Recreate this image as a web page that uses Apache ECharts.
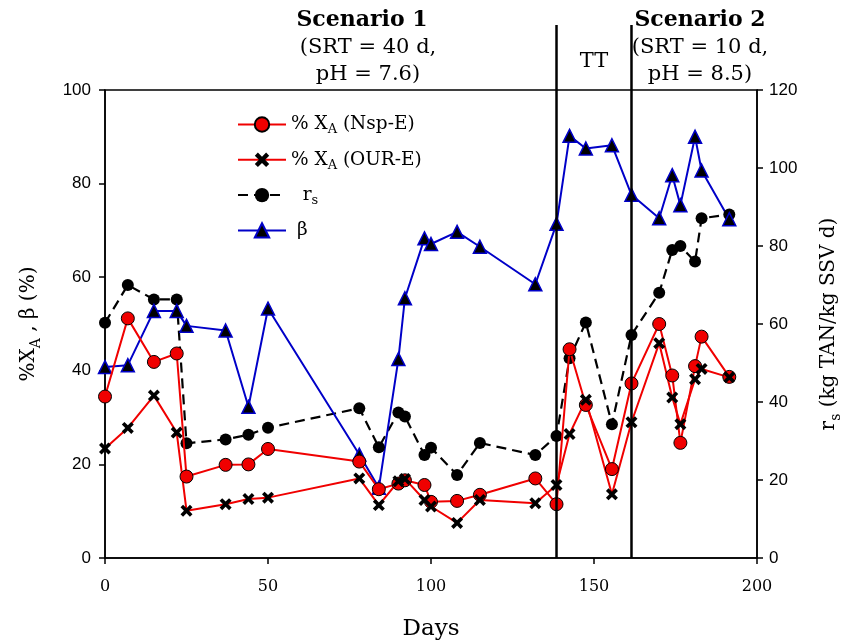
<!DOCTYPE html>
<html>
<head>
<meta charset="utf-8">
<script src="https://cdn.jsdelivr.net/npm/echarts/dist/echarts.min.js"></script>
<style>
  html, body { margin: 0; padding: 0; background: #fff; }
  #chart { width: 843px; height: 640px; }
</style>
</head>
<body>
<div id="chart"></div>
<script>
// Sampling days of the reactor run
const days = [0, 7, 15, 22, 25, 37, 44, 50, 78, 84, 90, 92, 98, 100, 108, 115, 132,
  138.5, 142.5, 147.5, 155.5, 161.5, 170, 174, 176.5, 181, 183, 191.5];

// % X_A estimated from the Nsp-E method (%)
const xaNsp = [34.5, 51.2, 41.9, 43.7, 17.4, 19.9, 20.0, 23.3, 20.6, 14.7, 15.9, 16.6, 15.6, 12.0, 12.2, 13.5, 17.0,
  11.5, 44.6, 32.7, 19.0, 37.3, 50.0, 39.0, 24.6, 41.0, 47.3, 38.7];

// % X_A estimated from the OUR-E method (%)
const xaOur = [23.4, 27.8, 34.7, 26.8, 10.1, 11.5, 12.6, 12.9, 17.0, 11.3, 16.4, 16.9, 12.4, 11.0, 7.5, 12.4, 11.7,
  15.6, 26.5, 33.8, 13.6, 29.0, 45.9, 34.3, 28.6, 38.2, 40.4, 38.6];

// Specific ammonium removal rate r_s (kg TAN/kg SSV d)
const rs = [60.3, 70.0, 66.3, 66.3, 29.4, 30.4, 31.6, 33.4, 38.4, 28.4, 37.3, 36.3, 26.4, 28.3, 21.3, 29.5, 26.4,
  31.3, 51.2, 60.4, 34.3, 57.2, 68.0, 79.0, 80.0, 76.0, 87.1, 88.1];

// beta (%)
const beta = [40.8, 41.2, 52.8, 52.8, 49.6, 48.6, 32.3, 53.3, 22.1, 15.0, 42.5, 55.5, 68.3, 67.1, 69.7, 66.5, 58.5,
  71.4, 90.2, 87.5, 88.2, 77.6, 72.6, 81.8, 75.4, 90.0, 82.8, 72.4];

// Boundaries between Scenario 1, the transition (TT) and Scenario 2
const phaseBounds = [138.5, 161.5];

const seriesNames = ['% XA (Nsp-E)', '% XA (OUR-E)', 'rs', 'β'];

const SERIF = 'DejaVu Serif';
const SANS = 'Liberation Sans';
const RED = '#f00000';
const BLUE = '#0000c8';

const pairs = ys => days.map((d, i) => [d, ys[i]]);

// filled X marker
const crossPath = 'path://M0,3 L3,0 L7,4 L11,0 L14,3 L10,7 L14,11 L11,14 L7,10 L3,14 L0,11 L4,7 Z';

const richText = {
  t: { fontFamily: SERIF, fontSize: 18.5, lineHeight: 24, color: '#000', verticalAlign: 'middle' },
  s: { fontFamily: SERIF, fontSize: 13, lineHeight: 11, color: '#000', verticalAlign: 'bottom' }
};
const axisRich = {
  t: { fontFamily: SERIF, fontSize: 20, lineHeight: 28, color: '#000', verticalAlign: 'middle' },
  s: { fontFamily: SERIF, fontSize: 14, lineHeight: 12, color: '#000', verticalAlign: 'bottom' }
};

const chart = echarts.init(document.getElementById('chart'), null, { renderer: 'canvas' });

const axisCommon = {
  axisLine: { show: true, lineStyle: { color: '#000', width: 1.5 } },
  axisTick: { show: true, inside: false, length: 6, lineStyle: { color: '#000', width: 1.5 } },
  splitLine: { show: false }
};

chart.setOption({
  animation: false,
  backgroundColor: '#fff',
  grid: {
    left: 105, right: 86, top: 90, bottom: 82,
    outerBoundsMode: 'none', containLabel: false,
    show: true, borderColor: '#000', borderWidth: 1.5, backgroundColor: 'transparent'
  },
  legend: {
    data: seriesNames,
    orient: 'vertical',
    left: 232, top: 110,
    itemWidth: 48, itemHeight: 18, itemGap: 13.8,
    formatter: name => {
      if (name === '% XA (Nsp-E)') return '{t|% X}{s|A}{t| (Nsp-E)}';
      if (name === '% XA (OUR-E)') return '{t|% X}{s|A}{t| (OUR-E)}';
      if (name === 'rs') return '{t|  r}{s|s}';
      return '{t| β}';
    },
    textStyle: { rich: richText }
  },
  xAxis: {
    type: 'value', min: 0, max: 200, interval: 50,
    ...axisCommon,
    axisLabel: { color: '#000', fontFamily: SERIF, fontSize: 16, margin: 21 },
    name: 'Days', nameLocation: 'middle', nameGap: 60,
    nameTextStyle: { color: '#000', fontFamily: SERIF, fontSize: 23 }
  },
  yAxis: [
    {
      type: 'value', min: 0, max: 100, interval: 20, position: 'left',
      ...axisCommon,
      axisLabel: { color: '#000', fontFamily: SANS, fontSize: 17, margin: 14 },
      name: '{t|%X}{s|A}{t| , β (%)}', nameLocation: 'middle', nameRotate: 90, nameGap: 62,
      nameTextStyle: { rich: axisRich }
    },
    {
      type: 'value', min: 0, max: 120, interval: 20, position: 'right',
      ...axisCommon,
      axisLabel: { color: '#000', fontFamily: SANS, fontSize: 17, margin: 12 },
      name: '{t|r}{s|s}{t| (kg TAN/kg SSV d)}', nameLocation: 'middle', nameRotate: 90, nameGap: 58,
      nameTextStyle: { rich: axisRich }
    }
  ],
  series: [
    {
      name: seriesNames[0], type: 'line', yAxisIndex: 0, data: pairs(xaNsp),
      symbol: 'circle', symbolSize: 13, z: 4,
      lineStyle: { color: RED, width: 2 },
      itemStyle: { color: RED, borderColor: '#000', borderWidth: 1 }
    },
    {
      name: seriesNames[1], type: 'line', yAxisIndex: 0, data: pairs(xaOur),
      symbol: crossPath, symbolSize: 12, z: 4,
      lineStyle: { color: RED, width: 2 },
      itemStyle: { color: '#000', borderWidth: 0 }
    },
    {
      name: seriesNames[2], type: 'line', yAxisIndex: 1, data: pairs(rs),
      symbol: 'circle', symbolSize: 12, z: 3,
      lineStyle: { color: '#000', width: 2.2, type: [10, 6] },
      itemStyle: { color: '#000', borderColor: '#000', borderWidth: 0 }
    },
    {
      name: seriesNames[3], type: 'line', yAxisIndex: 0, data: pairs(beta),
      symbol: 'triangle', symbolSize: 13, z: 3,
      lineStyle: { color: BLUE, width: 2 },
      itemStyle: { color: '#000', borderColor: BLUE, borderWidth: 1.5 }
    }
  ]
});

// Phase separators and scenario headings
const gridBottom = chart.convertToPixel({ yAxisIndex: 0 }, 0);
const bx = phaseBounds.map(d => chart.convertToPixel({ xAxisIndex: 0 }, d));
const head = (text, x, y, bold) => ({
  type: 'text', x, y, z: 10,
  style: {
    text, x: 0, y: 0, align: 'center', verticalAlign: 'middle', fill: '#000',
    font: (bold ? 'bold 22px ' : '21px ') + SERIF
  }
});

chart.setOption({
  graphic: [
    ...bx.map(x => ({
      type: 'line', z: 10,
      shape: { x1: x, y1: 25, x2: x, y2: gridBottom },
      style: { stroke: '#000', lineWidth: 2.5 }
    })),
    head('Scenario 1', 362, 20, true),
    head('(SRT = 40 d,', 368, 48, false),
    head('pH = 7.6)', 368, 75, false),
    head('TT', (bx[0] + bx[1]) / 2, 62, false),
    head('Scenario 2', 700, 20, true),
    head('(SRT = 10 d,', 700, 48, false),
    head('pH = 8.5)', 700, 75, false)
  ]
});
</script>
</body>
</html>
